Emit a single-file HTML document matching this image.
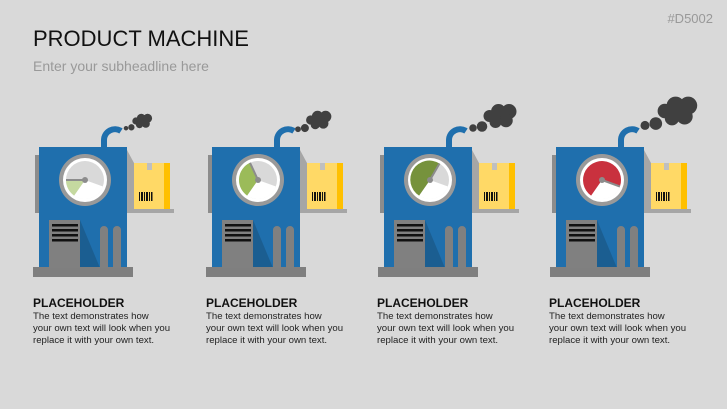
<!DOCTYPE html>
<html><head><meta charset="utf-8"><style>
body{margin:0;width:727px;height:409px;background:#d9d9d9;overflow:hidden;font-family:"Liberation Sans",sans-serif;position:relative}
.t{position:absolute;left:33px;top:26px;font-size:22px;color:#111}
.s{position:absolute;left:33px;top:58px;font-size:14px;color:#999}
.id{position:absolute;right:14px;top:11px;font-size:13px;color:#999}
.c{position:absolute;top:296px;width:145px;font-size:9.6px;line-height:12px;color:#222}
.c b{display:block;font-size:12px;line-height:15px;color:#111}
</style></head><body>
<div class="t">PRODUCT MACHINE</div>
<div class="s">Enter your subheadline here</div>
<div class="id">#D5002</div>
<svg width="727" height="409" style="position:absolute;left:0;top:0">
<defs>
<g id="m">
<path d="M104,148 L104,140 A11,11 0 0 1 121,131" fill="none" stroke="#1f6fad" stroke-width="6"/>
<rect x="35" y="155" width="5" height="58" fill="#8c8c8c"/>
<polygon points="127,150 134,163 134,209 127,209" fill="#a6a6a6"/>
<rect x="39" y="147" width="88" height="122" fill="#1f6fad"/>
<polygon points="80,220 100,268 80,268" fill="#1b5e91"/>
<rect x="33" y="267" width="100" height="10" fill="#7f7f7f"/>
<rect x="49" y="220" width="31" height="48" fill="#808080"/>
<g fill="#111"><rect x="52" y="224" width="26" height="2.5"/><rect x="52" y="229" width="26" height="2.5"/><rect x="52" y="234" width="26" height="2.5"/><rect x="52" y="239" width="26" height="2.5"/></g>
<path d="M100,268 V230 a4,4 0 0 1 8,0 V268Z M113,268 V230 a4,4 0 0 1 8,0 V268Z" fill="#808080"/>
<rect x="127" y="209" width="47" height="4" fill="#a6a6a6"/>
<rect x="134" y="163" width="36" height="46" fill="#ffd966"/>
<rect x="164" y="163" width="6" height="46" fill="#ffc000"/>
<rect x="147" y="163" width="5" height="7" fill="#bfbfbf"/>
<g fill="#111"><rect x="139" y="192" width="1" height="9"/><rect x="141" y="192" width="2" height="9"/><rect x="144" y="192" width="1" height="9"/><rect x="146" y="192" width="2" height="9"/><rect x="149" y="192" width="1" height="9"/><rect x="151" y="192" width="1.5" height="9"/></g>
<circle cx="85" cy="180" r="26" fill="#999"/>
<circle cx="85" cy="180" r="22" fill="#fff"/>
<circle cx="85" cy="180" r="19" fill="#d9d9d9"/>
<path d="M85,180 L74.1,195.6 A19,19 0 0 0 102.9,186.5Z" fill="#fff"/>
</g>
<g id="sm" fill="#404040"><circle cx="0" cy="8" r="2.5"/><circle cx="6" cy="7" r="3.5"/><circle cx="11" cy="0" r="4"/><circle cx="17" cy="-3" r="5"/><circle cx="24" cy="-3" r="5"/><circle cx="22" cy="3" r="4.5"/><circle cx="15" cy="4" r="4"/></g>
</defs>
<use href="#m"/>
<path d="M85,180 L66,180 A19,19 0 0 0 74.1,195.6Z" fill="#c5d9a0"/>
<line x1="85" y1="180" x2="66" y2="180" stroke="#8c8c8c" stroke-width="2"/><circle cx="85" cy="180" r="3" fill="#8c8c8c"/>
<use href="#sm" transform="translate(126,121) scale(0.9)"/>
<g transform="translate(173,0)"><use href="#m"/>
<path d="M85,180 L77,162.8 A19,19 0 0 0 74.1,195.6Z" fill="#9bbb59"/>
<line x1="85" y1="180" x2="77" y2="162.8" stroke="#8c8c8c" stroke-width="2"/><circle cx="85" cy="180" r="3" fill="#8c8c8c"/>
<use href="#sm" transform="translate(125,120) scale(1.15)"/></g>
<g transform="translate(345,0)"><use href="#m"/>
<path d="M85,180 L94.5,163.5 A19,19 0 0 0 74.1,195.6Z" fill="#76923c"/>
<line x1="85" y1="180" x2="94.5" y2="163.5" stroke="#8c8c8c" stroke-width="2"/><circle cx="85" cy="180" r="3" fill="#8c8c8c"/>
<use href="#sm" transform="translate(128,116) scale(1.5)"/></g>
<g transform="translate(517,0)"><use href="#m"/>
<path d="M85,180 L102.9,186.5 A19,19 0 1 0 74.1,195.6Z" fill="#c9313e"/>
<line x1="85" y1="180" x2="102.9" y2="186.5" stroke="#8c8c8c" stroke-width="2"/><circle cx="85" cy="180" r="3" fill="#8c8c8c"/>
<use href="#sm" transform="translate(128,111) scale(1.8)"/></g>
</svg>
<div class="c" style="left:33px"><b>PLACEHOLDER</b>The text demonstrates how<br>your own text will look when you<br>replace it with your own text.</div>
<div class="c" style="left:206px"><b>PLACEHOLDER</b>The text demonstrates how<br>your own text will look when you<br>replace it with your own text.</div>
<div class="c" style="left:377px"><b>PLACEHOLDER</b>The text demonstrates how<br>your own text will look when you<br>replace it with your own text.</div>
<div class="c" style="left:549px"><b>PLACEHOLDER</b>The text demonstrates how<br>your own text will look when you<br>replace it with your own text.</div>
</body></html>
